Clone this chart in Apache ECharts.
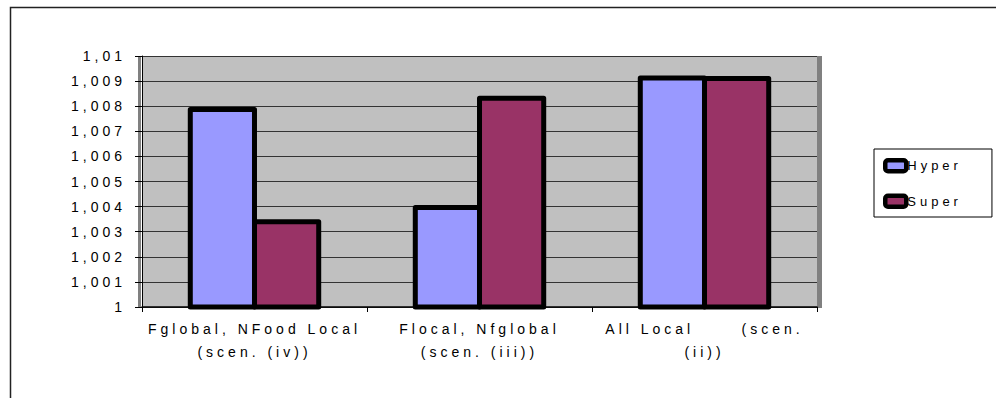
<!DOCTYPE html>
<html>
<head>
<meta charset="utf-8">
<title></title>
<script src="https://cdn.jsdelivr.net/npm/echarts@6/dist/echarts.min.js"></script>
<style>
	html, body { margin: 0; padding: 0; background: #fff; }
	#chart { width: 996px; height: 398px; }
	/* the source chart uses widely spaced letters */
	#chart text { letter-spacing: 4px; white-space: pre; }
</style>
</head>
<body>
<div id="chart"></div>
<script>
var categories = [
	'Fglobal, NFood Local\n(scen. (iv))',
	'Flocal, Nfglobal\n(scen. (iii))',
	'All Local      (scen.\n(ii))'
];
var hyper = [1.00797, 1.00406, 1.00922];
var superV = [1.00350, 1.00842, 1.00920];
var yMin = 1, yMax = 1.01, yStep = 0.001;

var font = 'Liberation Sans, Arial, sans-serif';

var myChart = echarts.init(document.getElementById('chart'), null, { renderer: 'svg' });
myChart.setOption({
	backgroundColor: '#fff',
	animation: false,
	grid: {
		left: 142,
		top: 56,
		right: 179,
		bottom: 91,
		show: true,
		backgroundColor: '#c0c0c0',
		borderWidth: 0
	},
	legend: {
		orient: 'vertical',
		left: 874,
		top: 149,
		padding: [9, 50, 8, 9],
		itemGap: 20,
		itemWidth: 21,
		itemHeight: 11,
		icon: 'roundRect',
		backgroundColor: '#fff',
		borderColor: '#000',
		borderWidth: 1,
		itemStyle: { borderColor: '#000', borderWidth: 4.5 },
		textStyle: { fontFamily: font, fontSize: 13, color: '#000', padding: [0, 0, 0, -4] },
		data: ['Hyper', 'Super']
	},
	xAxis: {
		type: 'category',
		data: categories,
		axisLine: { lineStyle: { color: '#000', width: 1.5 } },
		axisTick: { show: true, length: 5, lineStyle: { color: '#000' } },
		axisLabel: {
			interval: 0,
			margin: 10,
			fontFamily: font,
			fontSize: 14,
			lineHeight: 23,
			color: '#000'
		},
		splitLine: { show: false }
	},
	yAxis: {
		type: 'value',
		min: yMin,
		max: yMax,
		interval: yStep,
		axisLine: { show: true, lineStyle: { color: '#000', width: 1 } },
		axisTick: { show: true, length: 7, lineStyle: { color: '#000' } },
		axisLabel: {
			margin: 16,
			fontFamily: font,
			fontSize: 14,
			color: '#000',
			formatter: function (v) {
				return String(parseFloat(v.toFixed(3))).replace('.', ',');
			}
		},
		splitLine: { show: true, lineStyle: { color: '#333', width: 1 } }
	},
	graphic: [
		// outer chart frame (runs off the right and bottom of the picture)
		{ type: 'rect', left: 8, top: 5, shape: { width: 1000, height: 400 },
			style: { fill: 'none', stroke: '#222', lineWidth: 1.5 }, z: 100 },
		// 3D wall edges
		{ type: 'rect', left: 817, top: 56, shape: { width: 5, height: 252 },
			style: { fill: '#808080' } },
		{ type: 'rect', left: 138, top: 56, shape: { width: 3, height: 251 },
			style: { fill: '#808080' } }
	],
	series: [{
		name: 'Hyper',
		type: 'bar',
		data: hyper,
		barGap: '-7.2%',
		barCategoryGap: '40.7%',
		itemStyle: { color: '#9999ff', borderColor: '#000', borderWidth: 5, borderJoin: 'round' }
	}, {
		name: 'Super',
		type: 'bar',
		data: superV,
		barGap: '-7.2%',
		barCategoryGap: '40.7%',
		itemStyle: { color: '#993366', borderColor: '#000', borderWidth: 5, borderJoin: 'round' }
	}]
});
</script>
</body>
</html>
